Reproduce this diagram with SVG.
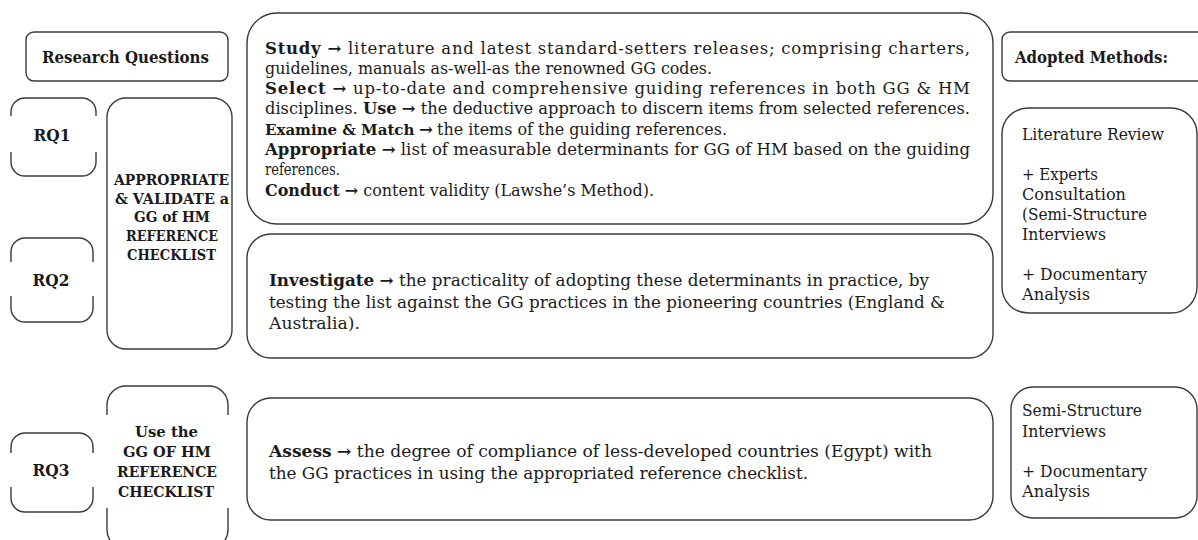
<svg xmlns="http://www.w3.org/2000/svg" width="1198" height="540" viewBox="0 0 1198 540">
<style>
.box{fill:none;stroke:#3a3a3a;stroke-width:1.4}
.t{font-family:"DejaVu Serif","Liberation Serif",serif;font-size:16.5px;fill:#1a1a1a}
.h{font-family:"DejaVu Serif","Liberation Serif",serif;font-size:15px;font-weight:bold;fill:#1a1a1a;text-anchor:middle}
.q{font-size:16.5px}
.b{font-weight:bold}
</style>
<rect width="1198" height="540" fill="#ffffff"/>
<g id="connectors"></g>

<g id="research-questions">
<rect class="box" x="26" y="32" width="202" height="49" rx="8"/>
<text class="h q" x="125.5" y="63" textLength="167" lengthAdjust="spacingAndGlyphs">Research Questions</text>
</g>

<g id="rq1">
<path class="box" d="M11,116 V112 A14,14 0 0 1 25,98 H82 A14,14 0 0 1 96,112 V116 M11,152 V162 A14,14 0 0 0 25,176 H82 A14,14 0 0 0 96,162 V152"/>
<text class="h q" x="52" y="141" textLength="37" lengthAdjust="spacingAndGlyphs">RQ1</text>
</g>

<g id="rq2">
<path class="box" d="M11,262 V252 A14,14 0 0 1 25,238 H79 A14,14 0 0 1 93,252 V262 M11,296 V308 A14,14 0 0 0 25,322 H79 A14,14 0 0 0 93,308 V296"/>
<text class="h q" x="51" y="286" textLength="37" lengthAdjust="spacingAndGlyphs">RQ2</text>
</g>

<g id="rq3">
<path class="box" d="M11,453 V447 A14,14 0 0 1 25,433 H79 A14,14 0 0 1 93,447 V453 M11,487 V498 A14,14 0 0 0 25,512 H79 A14,14 0 0 0 93,498 V487"/>
<text class="h q" x="51" y="476" textLength="37" lengthAdjust="spacingAndGlyphs">RQ3</text>
</g>

<g id="appropriate">
<rect class="box" x="107" y="98" width="125" height="251" rx="19"/>
<text class="h" x="171.5" y="185" textLength="115" lengthAdjust="spacingAndGlyphs">APPROPRIATE</text>
<text class="h" x="172" y="204" textLength="114" lengthAdjust="spacingAndGlyphs">&amp; VALIDATE a</text>
<text class="h" x="172" y="222" textLength="76" lengthAdjust="spacingAndGlyphs">GG of HM</text>
<text class="h" x="172" y="241" textLength="92" lengthAdjust="spacingAndGlyphs">REFERENCE</text>
<text class="h" x="171.5" y="260" textLength="89" lengthAdjust="spacingAndGlyphs">CHECKLIST</text>
</g>

<g id="use-checklist">
<path class="box" d="M107,415 V405 A19,19 0 0 1 126,386 H209 A19,19 0 0 1 228,405 V415 M107,508 V530 A19,19 0 0 0 126,549 H209 A19,19 0 0 0 228,530 V508"/>
<text class="h" x="166.5" y="437" textLength="63" lengthAdjust="spacingAndGlyphs">Use the</text>
<text class="h" x="167" y="457" textLength="88" lengthAdjust="spacingAndGlyphs">GG OF HM</text>
<text class="h" x="167" y="477" textLength="100" lengthAdjust="spacingAndGlyphs">REFERENCE</text>
<text class="h" x="166" y="497" textLength="96" lengthAdjust="spacingAndGlyphs">CHECKLIST</text>
</g>

<g id="rq1-tasks">
<rect class="box" x="247" y="13" width="746" height="211" rx="30"/>
<text class="t" x="265" y="53.5" textLength="705" lengthAdjust="spacing"><tspan class="b">Study</tspan> <tspan class="b">→</tspan> literature and latest standard-setters releases; comprising charters,</text>
<text class="t" x="265" y="73.8" textLength="447" lengthAdjust="spacingAndGlyphs">guidelines, manuals as-well-as the renowned GG codes.</text>
<text class="t" x="265" y="94.1" textLength="705" lengthAdjust="spacing"><tspan class="b">Select</tspan> <tspan class="b">→</tspan> up-to-date and comprehensive guiding references in both GG &amp; HM</text>
<text class="t" x="265" y="114.4" textLength="705" lengthAdjust="spacingAndGlyphs">disciplines. <tspan class="b">Use</tspan> <tspan class="b">→</tspan> the deductive approach to discern items from selected references.</text>
<text class="t b" x="265" y="134.7" style="font-size:15px">Examine &amp; Match</text>
<text class="t b" x="419" y="134.7">→</text>
<text class="t" x="437" y="134.7" textLength="290" lengthAdjust="spacingAndGlyphs">the items of the guiding references.</text>
<text class="t" x="265" y="155" textLength="705" lengthAdjust="spacing"><tspan class="b">Appropriate</tspan> <tspan class="b">→</tspan> list of measurable determinants for GG of HM based on the guiding</text>
<text class="t" x="265" y="175.3" textLength="75" lengthAdjust="spacingAndGlyphs">references.</text>
<text class="t" x="265" y="195.6" textLength="389" lengthAdjust="spacingAndGlyphs"><tspan class="b">Conduct</tspan> <tspan class="b">→</tspan> content validity (Lawshe’s Method).</text>
</g>

<g id="rq2-tasks">
<rect class="box" x="247" y="234" width="746" height="124" rx="24"/>
<text class="t" x="269" y="286" textLength="660" lengthAdjust="spacingAndGlyphs"><tspan class="b">Investigate</tspan> <tspan class="b">→</tspan> the practicality of adopting these determinants in practice, by</text>
<text class="t" x="269" y="307.5" textLength="676" lengthAdjust="spacingAndGlyphs">testing the list against the GG practices in the pioneering countries (England &amp;</text>
<text class="t" x="269" y="329" textLength="91" lengthAdjust="spacingAndGlyphs">Australia).</text>
</g>

<g id="rq3-tasks">
<rect class="box" x="247" y="398" width="746" height="122" rx="24"/>
<text class="t" x="269" y="457" textLength="663" lengthAdjust="spacingAndGlyphs"><tspan class="b">Assess</tspan> <tspan class="b">→</tspan> the degree of compliance of less-developed countries (Egypt) with</text>
<text class="t" x="269" y="478.5" textLength="539" lengthAdjust="spacingAndGlyphs">the GG practices in using the appropriated reference checklist.</text>
</g>

<g id="adopted-methods">
<rect class="box" x="1002" y="32" width="210" height="49" rx="8"/>
<text class="t b" x="1015" y="63" textLength="153" lengthAdjust="spacingAndGlyphs">Adopted Methods:</text>
</g>

<g id="methods-rq1-rq2">
<rect class="box" x="1002" y="108" width="195" height="205" rx="26"/>
<text class="t" x="1022" y="140" textLength="142" lengthAdjust="spacingAndGlyphs">Literature Review</text>
<text class="t" x="1022" y="180" textLength="76" lengthAdjust="spacingAndGlyphs">+ Experts</text>
<text class="t" x="1022" y="200" textLength="104" lengthAdjust="spacingAndGlyphs">Consultation</text>
<text class="t" x="1022" y="220" textLength="125" lengthAdjust="spacingAndGlyphs">(Semi-Structure</text>
<text class="t" x="1022" y="240" textLength="84" lengthAdjust="spacingAndGlyphs">Interviews</text>
<text class="t" x="1022" y="280" textLength="125" lengthAdjust="spacingAndGlyphs">+ Documentary</text>
<text class="t" x="1022" y="300" textLength="68" lengthAdjust="spacingAndGlyphs">Analysis</text>
</g>

<g id="methods-rq3">
<rect class="box" x="1011" y="387" width="186" height="131" rx="22"/>
<text class="t" x="1022" y="416" textLength="120" lengthAdjust="spacingAndGlyphs">Semi-Structure</text>
<text class="t" x="1022" y="437" textLength="84" lengthAdjust="spacingAndGlyphs">Interviews</text>
<text class="t" x="1022" y="477" textLength="125" lengthAdjust="spacingAndGlyphs">+ Documentary</text>
<text class="t" x="1022" y="497" textLength="68" lengthAdjust="spacingAndGlyphs">Analysis</text>
</g>
</svg>
